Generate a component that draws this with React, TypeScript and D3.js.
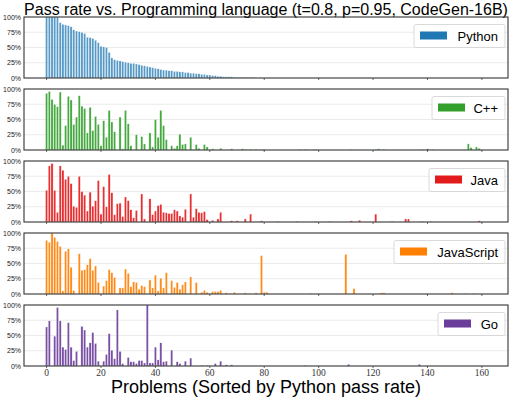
import React from "react";
import * as d3 from "d3";

const languages = ["Python", "C++", "Java", "JavaScript", "Go"];
const colors = ["#1f78b4", "#33a02c", "#e31a1c", "#ff7f00", "#6a3d9a"];
const yTicks = [0, 0.25, 0.5, 0.75, 1];
const xTicks = [0, 20, 40, 60, 80, 100, 120, 140, 160];

const python = [
  100,100,100,100,100,91,88,87,86,84,
  79,77,76,75,73,67,66,65,62,58,
  52,51,50,42,33,30,29,28,27,26,
  25,24,24,23,22,21,20,19,18,17,
  16,15,14,13,13,12,12,11,11,10,
  10,9,9,8,8,7,7,6,6,5,
  5,4,4,3,3,2,2,2,2,1,
  1,1,1,1,1,1,1,0,0,0,
  0,0,0,0,0,0,0,0,0,0,
  0,0,0,0,0,0,0,0,0,0,
  0,0,0,0,0,0,0,0,0,0,
  0,0,0,0,0,0,0,0,0,0,
  0,0,0,0,0,0,0,0,0,0,
  0,0,0,0,0,0,0,0,0,0,
  0,0,0,0,0,0,0,0,0,0,
  0,0,0,0,0,0,0,0,0,0,
  0,0,0,0,
];

const cpp = [
  93,96,83,75,71,95,8,40,88,82,
  42,54,89,72,68,28,70,32,55,42,
  7,48,21,65,46,30,0,54,2,65,
  43,7,0,25,0,22,10,0,28,5,
  50,21,65,40,17,0,7,3,7,26,
  9,10,0,21,0,9,3,0,9,5,
  0,2,0,0,3,0,0,0,2,0,
  0,0,2,1,0,1,0,1,0,1,
  1,0,0,0,0,0,0,0,0,0,
  0,0,0,1,0,1,1,0,1,1,
  0,0,0,0,0,0,0,0,0,0,
  0,0,1,0,0,0,0,0,0,0,
  0,1,2,0,1,0,0,0,0,0,
  0,0,0,0,0,0,0,0,1,0,
  2,0,1,0,0,0,0,0,0,0,
  0,0,0,0,0,10,4,0,5,3,
  0,0,0,0,
];

const java = [
  52,92,96,52,16,92,85,70,75,63,
  26,24,75,50,44,18,49,26,35,68,
  13,58,25,78,48,12,30,31,9,41,
  35,20,7,19,0,46,5,0,38,12,
  18,27,29,16,15,14,14,20,18,10,
  8,21,0,46,8,22,16,15,17,4,
  0,3,0,5,16,0,0,0,2,0,
  2,0,0,5,0,13,0,0,0,2,
  0,0,0,0,0,1,0,0,0,0,
  0,0,1,0,0,0,0,0,0,1,
  0,0,0,0,1,0,0,0,0,0,
  0,0,2,0,0,3,0,0,0,0,
  0,13,0,0,0,0,0,1,0,0,
  0,0,5,5,0,0,0,0,1,0,
  0,1,0,0,0,0,0,0,0,0,
  0,0,0,0,0,0,0,0,0,2,
  0,0,0,0,
];

const javascript = [
  88,85,100,93,86,78,5,70,74,44,
  6,0,66,39,40,48,58,39,46,19,
  0,13,22,40,35,27,0,10,10,41,
  34,12,20,19,8,14,12,0,23,10,
  31,5,26,10,35,0,22,11,19,8,
  15,20,0,28,0,19,0,3,6,3,
  0,4,4,4,6,0,2,0,0,3,
  0,0,0,2,0,0,0,2,0,63,
  3,3,0,0,0,0,0,0,0,0,
  0,0,0,0,0,0,0,1,0,0,
  0,0,0,0,0,0,0,0,0,0,
  65,0,0,9,0,0,0,0,0,0,
  0,0,0,2,2,0,0,0,0,0,
  0,0,0,0,0,0,0,0,0,0,
  0,0,0,0,0,0,0,0,0,2,
  0,0,0,0,1,0,0,1,0,0,
  0,0,0,0,
];

const go = [
  64,74,0,49,96,74,31,27,71,31,
  9,24,0,65,59,31,38,55,37,8,
  0,8,19,53,26,12,92,24,4,0,
  14,7,7,4,9,9,5,100,5,5,
  31,10,38,7,8,0,26,0,7,4,
  0,8,0,13,0,0,0,1,0,1,
  0,0,4,0,8,0,2,0,2,0,
  0,0,0,0,0,0,0,0,0,0,
  0,0,0,0,0,0,0,0,0,0,
  0,0,0,0,0,1,0,0,0,0,
  0,0,0,0,0,0,0,0,0,0,
  0,3,0,0,0,0,0,0,0,0,
  0,0,0,0,0,0,0,0,0,0,
  0,0,0,0,0,0,0,3,0,0,
  0,0,0,0,0,0,0,0,0,0,
  0,0,0,0,0,0,0,0,0,0,
  0,0,0,0,
];

const series = [python, cpp, java, javascript, go];

const W = 515;
const H = 400;
const left = 24;
const right = 508;
const panelTops = [17, 89, 161, 233, 305];
const panelH = 61;
const sans = "'Liberation Sans', Arial, Helvetica, sans-serif";
const serif = "'Liberation Serif', 'Times New Roman', serif";

export default function App() {
  const x = d3.scaleLinear().domain([-8.3, 169.6]).range([left, right]);
  const barW = x(0.8) - x(0);
  const legendWidths = [91, 73, 76, 111, 67];
  return (
    <svg
      width={W}
      height={H}
      style={{ position: "absolute", left: 0, top: 0, background: "#fff" }}
    >
      <text
        x={(left + right) / 2}
        y={15}
        textAnchor="middle"
        fontFamily={sans}
        fontSize={16}
        fill="#000"
      >
        Pass rate vs. Programming language (t=0.8, p=0.95, CodeGen-16B)
      </text>
      {series.map((vals, si) => {
        const top = panelTops[si];
        const y = d3.scaleLinear().domain([0, 1]).range([top + panelH, top]);
        const lw = legendWidths[si];
        const lx = right - 3 - lw;
        const ly = top + 7.5;
        return (
          <g key={languages[si]}>
            {yTicks.map((t) => (
              <g key={t}>
                {t > 0 && t < 1 && (
                  <line
                    x1={left}
                    x2={right}
                    y1={y(t)}
                    y2={y(t)}
                    stroke="#e6e6e6"
                    strokeWidth={0.8}
                  />
                )}
                <text
                  x={left - 3}
                  y={y(t) + 2.5}
                  textAnchor="end"
                  fontFamily={sans}
                  fontSize={7}
                  fill="#222"
                >
                  {d3.format(".0%")(t)}
                </text>
              </g>
            ))}
            {vals.map((v, i) =>
              v > 0 ? (
                <rect
                  key={i}
                  x={x(i) - barW / 2}
                  width={barW}
                  y={y(v / 100)}
                  height={y(0) - y(v / 100)}
                  fill={colors[si]}
                  fillOpacity={si === 0 ? 0.75 : 0.9}
                  stroke="#fff"
                  strokeWidth={0.35}
                />
              ) : null
            )}
            {xTicks.map((t) => (
              <line
                key={t}
                x1={x(t)}
                x2={x(t)}
                y1={top + panelH}
                y2={top + panelH + 2}
                stroke="#444"
                strokeWidth={0.8}
              />
            ))}
            <rect
              x={left}
              y={top}
              width={right - left}
              height={panelH}
              fill="none"
              stroke="#333"
              strokeWidth={1.1}
            />
            <rect
              x={lx}
              y={ly}
              width={lw}
              height={23}
              rx={2}
              fill="#fff"
              fillOpacity={0.85}
              stroke="#d0d0d0"
              strokeWidth={0.8}
            />
            <rect
              x={lx + 6}
              y={ly + 7}
              width={27}
              height={8}
              fill={colors[si]}
            />
            <text
              x={right - 10}
              y={ly + 16}
              textAnchor="end"
              fontFamily={sans}
              fontSize={13}
              fill="#000"
            >
              {languages[si]}
            </text>
          </g>
        );
      })}
      {xTicks.map((t) => (
        <text
          key={t}
          x={x(t)}
          y={376}
          textAnchor="middle"
          fontFamily={serif}
          fontSize={9.5}
          fill="#333"
        >
          {t}
        </text>
      ))}
      <text
        x={(left + right) / 2}
        y={393}
        textAnchor="middle"
        fontFamily={sans}
        fontSize={18}
        fill="#000"
      >
        Problems (Sorted by Python pass rate)
      </text>
    </svg>
  );
}
